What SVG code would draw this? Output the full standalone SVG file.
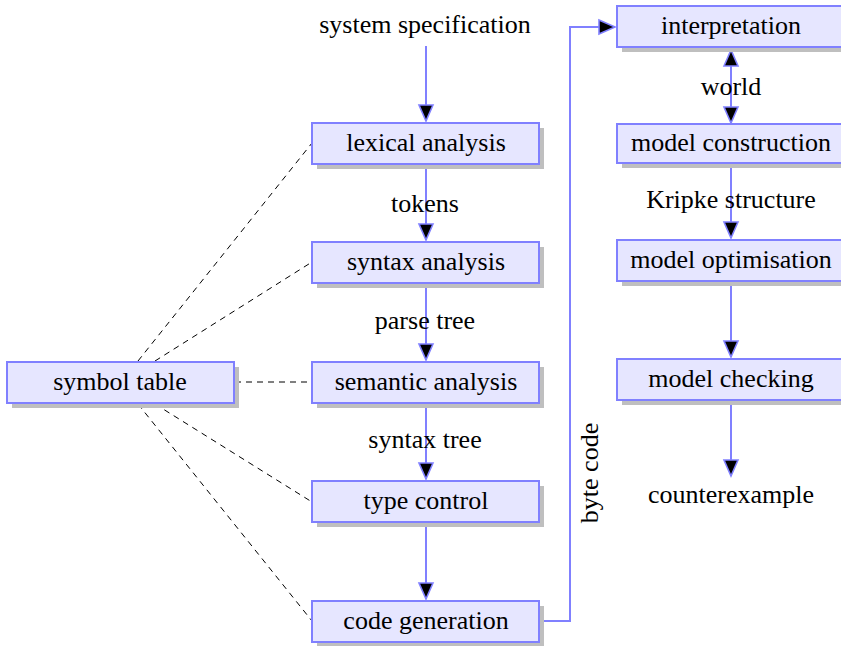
<svg xmlns="http://www.w3.org/2000/svg" width="841" height="646" viewBox="0 0 841 646">
<defs>
<marker id="ah" markerUnits="userSpaceOnUse" viewBox="-2 -10 20 20" refX="16" refY="0" markerWidth="20" markerHeight="20" orient="auto-start-reverse">
<path d="M0,-7 L16,0 L0,7 z" fill="#000" stroke="#8080ff" stroke-width="1.6"/>
</marker>
</defs>
<rect width="841" height="646" fill="#fff"/>
<g id="connectors">
<g stroke="#8080ff" stroke-width="2" fill="none" marker-end="url(#ah)">
<line x1="426" y1="46" x2="426" y2="121"/>
<line x1="426" y1="165" x2="426" y2="240"/>
<line x1="426" y1="284" x2="426" y2="360"/>
<line x1="426" y1="404" x2="426" y2="479"/>
<line x1="426" y1="523" x2="426" y2="599"/>
<polyline points="540,621 570,621 570,27 615,27"/>
<line x1="731" y1="50" x2="731" y2="123" marker-start="url(#ah)"/>
<line x1="731" y1="164" x2="731" y2="238"/>
<line x1="731" y1="283" x2="731" y2="357"/>
<line x1="731" y1="401" x2="731" y2="476"/>
</g>
<g stroke="#000" stroke-width="1" stroke-dasharray="6,5" fill="none">
<line x1="138" y1="361" x2="312" y2="143"/>
<line x1="155" y1="361" x2="312" y2="262"/>
<line x1="235" y1="382" x2="312" y2="382"/>
<line x1="155" y1="404" x2="312" y2="502"/>
<line x1="138" y1="404" x2="312" y2="621"/>
</g>
<text x="425" y="212" font-family="Liberation Serif" font-size="26" text-anchor="middle">tokens</text>
<text x="425" y="329" font-family="Liberation Serif" font-size="26" text-anchor="middle">parse tree</text>
<text x="425" y="448" font-family="Liberation Serif" font-size="26" text-anchor="middle">syntax tree</text>
<text x="731" y="95" font-family="Liberation Serif" font-size="26" text-anchor="middle">world</text>
<text x="731" y="208" font-family="Liberation Serif" font-size="26" text-anchor="middle">Kripke structure</text>
<text transform="translate(598,473) rotate(-90)" font-family="Liberation Serif" font-size="26" text-anchor="middle">byte code</text>
</g>
<g id="system-specification"><text x="425" y="33" font-family="Liberation Serif" font-size="26" text-anchor="middle">system specification</text></g>
<g id="lexical-analysis"><rect x="317" y="128" width="227" height="41" fill="#bfbfbf"/><rect x="312" y="123" width="227" height="41" fill="#e6e6ff" stroke="#8080ff" stroke-width="2"/><text x="426" y="151" font-family="Liberation Serif" font-size="26" text-anchor="middle">lexical analysis</text></g>
<g id="syntax-analysis"><rect x="317" y="247" width="227" height="41" fill="#bfbfbf"/><rect x="312" y="242" width="227" height="41" fill="#e6e6ff" stroke="#8080ff" stroke-width="2"/><text x="426" y="270" font-family="Liberation Serif" font-size="26" text-anchor="middle">syntax analysis</text></g>
<g id="semantic-analysis"><rect x="317" y="367" width="227" height="41" fill="#bfbfbf"/><rect x="312" y="362" width="227" height="41" fill="#e6e6ff" stroke="#8080ff" stroke-width="2"/><text x="426" y="390" font-family="Liberation Serif" font-size="26" text-anchor="middle">semantic analysis</text></g>
<g id="type-control"><rect x="317" y="486" width="227" height="41" fill="#bfbfbf"/><rect x="312" y="481" width="227" height="41" fill="#e6e6ff" stroke="#8080ff" stroke-width="2"/><text x="426" y="509" font-family="Liberation Serif" font-size="26" text-anchor="middle">type control</text></g>
<g id="code-generation"><rect x="317" y="606" width="227" height="41" fill="#bfbfbf"/><rect x="312" y="601" width="227" height="41" fill="#e6e6ff" stroke="#8080ff" stroke-width="2"/><text x="426" y="629" font-family="Liberation Serif" font-size="26" text-anchor="middle">code generation</text></g>
<g id="symbol-table"><rect x="12" y="367" width="227" height="41" fill="#bfbfbf"/><rect x="7" y="362" width="227" height="41" fill="#e6e6ff" stroke="#8080ff" stroke-width="2"/><text x="120" y="390" font-family="Liberation Serif" font-size="26" text-anchor="middle">symbol table</text></g>
<g id="interpretation"><rect x="622" y="11" width="227" height="41" fill="#bfbfbf"/><rect x="617" y="6" width="227" height="41" fill="#e6e6ff" stroke="#8080ff" stroke-width="2"/><text x="731" y="34" font-family="Liberation Serif" font-size="26" text-anchor="middle">interpretation</text></g>
<g id="model-construction"><rect x="622" y="129" width="227" height="39" fill="#bfbfbf"/><rect x="617" y="124" width="227" height="39" fill="#e6e6ff" stroke="#8080ff" stroke-width="2"/><text x="731" y="151" font-family="Liberation Serif" font-size="26" text-anchor="middle">model construction</text></g>
<g id="model-optimisation"><rect x="622" y="245" width="227" height="41" fill="#bfbfbf"/><rect x="617" y="240" width="227" height="41" fill="#e6e6ff" stroke="#8080ff" stroke-width="2"/><text x="731" y="268" font-family="Liberation Serif" font-size="26" text-anchor="middle">model optimisation</text></g>
<g id="model-checking"><rect x="622" y="364" width="227" height="41" fill="#bfbfbf"/><rect x="617" y="359" width="227" height="41" fill="#e6e6ff" stroke="#8080ff" stroke-width="2"/><text x="731" y="387" font-family="Liberation Serif" font-size="26" text-anchor="middle">model checking</text></g>
<g id="counterexample"><text x="731" y="503" font-family="Liberation Serif" font-size="26" text-anchor="middle">counterexample</text></g>
</svg>
